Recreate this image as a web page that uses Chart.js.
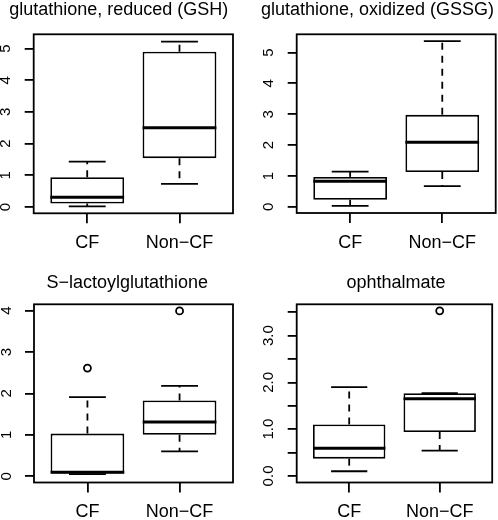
<!DOCTYPE html>
<html>
<head>
<meta charset="utf-8">
<script src="https://cdn.jsdelivr.net/npm/chart.js@4/dist/chart.umd.min.js"></script>
<style>
	html, body { margin: 0; background: #fff; overflow: hidden; }
	#wrap { position: relative; width: 498px; height: 520px; }
	canvas { position: absolute; }
</style>
</head>
<body>
<div id="wrap">
	<canvas id="gsh" width="249" height="260" style="left:0;top:0"></canvas>
	<canvas id="gssg" width="249" height="260" style="left:249px;top:0"></canvas>
	<canvas id="lgsh" width="249" height="270" style="left:0;top:250px"></canvas>
	<canvas id="oph" width="249" height="270" style="left:249px;top:250px"></canvas>
</div>
<script>
const groups = ['CF', 'Non\u2212CF'];

// [lower whisker, Q1, median, Q3, upper whisker]
const gshCF = [0.02, 0.11, 0.31, 0.94, 1.43];
const gshNonCF = [0.73, 1.54, 2.50, 4.90, 5.22];
const gssgCF = [0.03, 0.23, 0.83, 0.97, 1.14];
const gssgNonCF = [0.67, 1.13, 2.09, 2.98, 5.37];
const lgshCF = [0.05, 0.07, 0.10, 1.03, 1.91];
const lgshNonCF = [0.60, 1.00, 1.31, 1.83, 2.18];
const ophCF = [0.10, 0.37, 0.59, 1.10, 1.90];
const ophNonCF = [0.54, 0.94, 1.65, 1.77, 1.77];

// outliers per group
const gshOut = [[], []];
const gssgOut = [[], []];
const lgshOut = [[2.61], [3.99]];
const ophOut = [[], [3.53]];

const gshTicks = [0, 1, 2, 3, 4, 5];
const gshTickLabels = ['0', '1', '2', '3', '4', '5'];
const lgshTicks = [0, 1, 2, 3, 4];
const lgshTickLabels = ['0', '1', '2', '3', '4'];
const ophTicks = [0, 0.5, 1, 1.5, 2, 2.5, 3, 3.5];
const ophTickLabels = ['0.0', '', '1.0', '', '2.0', '', '3.0', ''];

const FONT = "'Liberation Sans', Arial, sans-serif";
const LW = 1.8;

const boxExtras = {
	id: 'boxExtras',
	afterDatasetsDraw(chart, args, opts) {
		const {ctx, scales: {x, y}} = chart;
		const bars = chart.getDatasetMeta(0).data;
		const seg = (x1, y1, x2, y2) => {
			ctx.beginPath();
			ctx.moveTo(x1, y1);
			ctx.lineTo(x2, y2);
			ctx.stroke();
		};
		ctx.save();
		ctx.strokeStyle = '#000';
		opts.stats.forEach((s, i) => {
			const cx = x.getPixelForValue(i + 1);
			const half = bars[i].width / 2;
			const [lo, q1, med, q3, hi] = s.map(v => y.getPixelForValue(v));
			ctx.lineWidth = LW;
			ctx.setLineDash([7, 6]);
			seg(cx, q3, cx, hi);
			seg(cx, q1, cx, lo);
			ctx.setLineDash([]);
			seg(cx - half / 2, hi, cx + half / 2, hi);
			seg(cx - half / 2, lo, cx + half / 2, lo);
			ctx.lineWidth = 3;
			seg(cx - half, med, cx + half, med);
		});
		ctx.restore();
	},
	afterDraw(chart, args, opts) {
		const {ctx, chartArea: a, scales: {y}} = chart;
		ctx.save();
		ctx.strokeStyle = '#000';
		ctx.lineWidth = LW;
		ctx.strokeRect(a.left, a.top, a.right - a.left, a.bottom - a.top);

		ctx.fillStyle = '#000';
		ctx.font = '18px ' + FONT;
		ctx.textAlign = 'center';
		ctx.textBaseline = 'alphabetic';
		ctx.fillText(opts.title, opts.titleX, opts.titleY);

		ctx.font = '15px ' + FONT;
		ctx.textBaseline = 'middle';
		y.ticks.forEach(t => {
			if (!t.label) return;
			ctx.save();
			ctx.translate(a.left - 27.5, y.getPixelForValue(t.value));
			ctx.rotate(-Math.PI / 2);
			ctx.fillText(t.label, 0, 0);
			ctx.restore();
		});
		ctx.restore();
	}
};

function boxplot(id, p) {
	const boxData = p.stats.map((s, i) => ({x: i + 1, y: [s[1], s[3]]}));
	const outData = [];
	p.outliers.forEach((list, i) => list.forEach(v => outData.push({x: i + 1, y: v})));

	return new Chart(document.getElementById(id), {
		type: 'bar',
		data: {
			datasets: [
				{
					type: 'bar',
					data: boxData,
					backgroundColor: '#fff',
					borderColor: '#000',
					borderWidth: LW,
					borderSkipped: false,
					categoryPercentage: 0.8,
					barPercentage: 1.0,
				},
				{
					type: 'line',
					data: outData,
					showLine: false,
					pointStyle: 'circle',
					pointRadius: 3.5,
					pointBorderWidth: LW,
					pointBorderColor: '#000',
					pointBackgroundColor: 'rgba(0,0,0,0)',
					clip: false,
				}
			]
		},
		options: {
			responsive: false,
			animation: false,
			events: [],
			layout: {padding: p.padding},
			plugins: {
				legend: {display: false},
				tooltip: {enabled: false},
				boxExtras: {stats: p.stats, title: p.title, titleX: p.titleX, titleY: p.titleY},
			},
			scales: {
				x: {
					type: 'linear',
					min: 0.42,
					max: 2.58,
					offset: false,
					afterBuildTicks: s => { s.ticks = [1, 2].map(v => ({value: v})); },
					afterFit: s => { s.height = p.xHeight; },
					ticks: {
						callback: (v, i) => groups[i],
						font: {family: FONT, size: 18},
						color: '#000',
						padding: 9,
						maxRotation: 0,
						autoSkip: false,
					},
					grid: {offset: false, drawOnChartArea: false, tickLength: 10, color: '#000', lineWidth: LW},
					border: {display: false},
				},
				y: {
					type: 'linear',
					min: p.yMin,
					max: p.yMax,
					afterBuildTicks: s => { s.ticks = p.ticks.map(v => ({value: v})); },
					afterFit: s => { s.width = 12; },
					ticks: {
						display: false,
						callback: (v, i) => p.tickLabels[i],
					},
					grid: {drawOnChartArea: false, tickLength: 9, color: '#000', lineWidth: LW},
					border: {display: false},
				}
			}
		},
		plugins: [boxExtras]
	});
}

boxplot('gsh', {
	title: 'glutathione, reduced (GSH)', titleX: 118.7, titleY: 15,
	stats: [gshCF, gshNonCF], outliers: gshOut,
	ticks: gshTicks, tickLabels: gshTickLabels, yMin: -0.2, yMax: 5.45,
	padding: {left: 21.7, right: 16, top: 34.3, bottom: 0}, xHeight: 46.7,
});
boxplot('gssg', {
	title: 'glutathione, oxidized (GSSG)', titleX: 128.5, titleY: 15,
	stats: [gssgCF, gssgNonCF], outliers: gssgOut,
	ticks: gshTicks, tickLabels: gshTickLabels, yMin: -0.2, yMax: 5.59,
	padding: {left: 35.7, right: 2.3, top: 34.3, bottom: 0}, xHeight: 47,
});
boxplot('lgsh', {
	title: 'S\u2212lactoylglutathione', titleX: 127.3, titleY: 37.5,
	stats: [lgshCF, lgshNonCF], outliers: lgshOut,
	ticks: lgshTicks, tickLabels: lgshTickLabels, yMin: -0.15, yMax: 4.15,
	padding: {left: 22, right: 16, top: 54.3, bottom: 0}, xHeight: 37.5,
});
boxplot('oph', {
	title: 'ophthalmate', titleX: 147, titleY: 37.5,
	stats: [ophCF, ophNonCF], outliers: ophOut,
	ticks: ophTicks, tickLabels: ophTickLabels, yMin: -0.14, yMax: 3.67,
	padding: {left: 35.7, right: 2.5, top: 54.3, bottom: 0}, xHeight: 37.5,
});
</script>
</body>
</html>
